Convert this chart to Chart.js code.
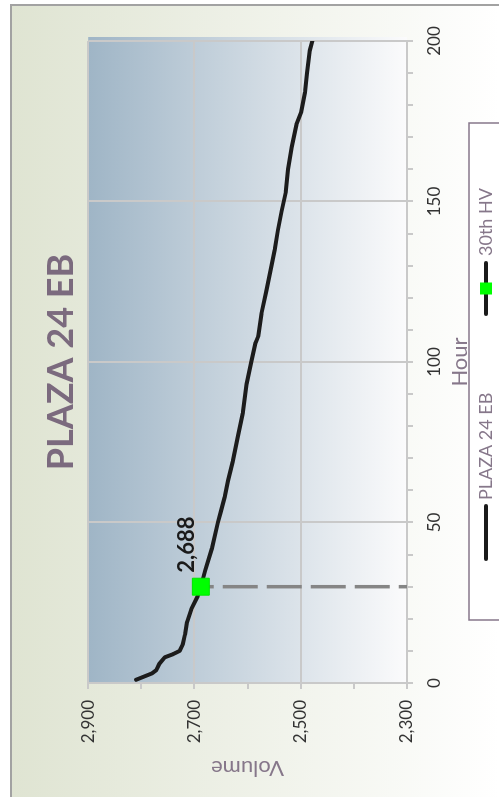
<!DOCTYPE html>
<html>
<head>
<meta charset="utf-8">
<title>PLAZA 24 EB</title>
<script src="https://cdn.jsdelivr.net/npm/chart.js@4.4.1/dist/chart.umd.min.js"></script>
<style>
html,body{margin:0;padding:0;background:#fff;overflow:hidden;width:499px;height:797px}
/* chart is laid out landscape, then turned a quarter to the left */
#wrap{position:absolute;left:0;top:797px;width:797px;height:520px;transform-origin:0 0;transform:rotate(-90deg)}
</style>
</head>
<body>
<div id="wrap"><canvas id="c" width="797" height="520"></canvas></div>
<script>
// ── data ────────────────────────────────────────────────────
const hours   = [1,3,4,6,8,9,10,12,15,19,23,27,30,35,42,50,53,58,63,69,77,84,93,100,106,108,115,122,130,135,141,147,153,160,167,174,178,184,190,197,200];
const volumes = [2810,2780,2772,2766,2756,2740,2728,2722,2718,2714,2706,2694,2688,2680,2667,2656,2651,2643,2637,2628,2618,2609,2602,2593,2585,2580,2574,2565,2555,2549,2543,2536,2528,2524,2517,2508,2499,2492,2488,2483,2478];
const hvHour = 30;
const hvVolume = 2688;
const hourTicks = [0,50,100,150,200];
const volumeTicks = [2300,2500,2700,2900];

const FONT = "Lato, 'DejaVu Sans', sans-serif";
const PURPLE = '#86778a';
const GRID = '#c9c9c9';

// ── plugins ─────────────────────────────────────────────────
const frameBg = {
  id: 'frameBg',
  beforeDraw(chart) {
    const { ctx, chartArea: a, width, height } = chart;
    ctx.save();
    ctx.fillStyle = '#fff';
    ctx.fillRect(0, 0, width, height);
    // outer frame runs off the left and bottom edges of the canvas
    const g = ctx.createLinearGradient(0, 11, 0, 499);
    g.addColorStop(0, '#dfe4d2');
    g.addColorStop(1, '#ffffff');
    ctx.fillStyle = g;
    ctx.fillRect(-10, 11, 802, height);
    ctx.strokeStyle = '#a2a2a2';
    ctx.lineWidth = 2;
    ctx.strokeRect(-10, 11, 802, height + 10);
    // plot area
    const pg = ctx.createLinearGradient(0, a.top, 0, a.bottom);
    pg.addColorStop(0, '#9fb5c6');
    pg.addColorStop(1, '#fbfbfc');
    ctx.fillStyle = pg;
    ctx.fillRect(a.left, a.top, a.right - a.left + 4, a.bottom - a.top);
    ctx.restore();
  }
};

const hvLabel = {
  id: 'hvLabel',
  afterDatasetsDraw(chart) {
    const el = chart.getDatasetMeta(0).data[0];
    if (!el) return;
    const { ctx } = chart;
    ctx.save();
    ctx.font = `bold 22px ${FONT}`;
    ctx.fillStyle = '#1a1a1a';
    ctx.textAlign = 'left';
    ctx.textBaseline = 'middle';
    ctx.fillText(hvVolume.toLocaleString('en-US'), el.x + 14, el.y - 14);
    ctx.restore();
  }
};

const boxLegend = {
  id: 'boxLegend',
  afterDraw(chart) {
    const { ctx, chartArea: a, height } = chart;
    const left = a.left + 63, top = a.bottom + 62, w = 497;
    const cy = top + 17;
    ctx.save();
    ctx.fillStyle = '#fff';
    ctx.fillRect(left, top, w, height);
    ctx.strokeStyle = PURPLE;
    ctx.lineWidth = 1.5;
    ctx.strokeRect(left, top, w, height + 10);

    ctx.font = `18px ${FONT}`;
    ctx.textBaseline = 'middle';
    ctx.lineCap = 'round';
    ctx.lineWidth = 4;
    ctx.strokeStyle = '#1a1a1a';
    // PLAZA 24 EB
    ctx.beginPath(); ctx.moveTo(left + 61, cy); ctx.lineTo(left + 114, cy); ctx.stroke();
    ctx.fillStyle = PURPLE;
    ctx.fillText('PLAZA 24 EB', left + 120, cy);
    // 30th HV
    ctx.beginPath(); ctx.moveTo(left + 306, cy); ctx.lineTo(left + 357, cy); ctx.stroke();
    ctx.fillStyle = '#00ff00';
    ctx.fillRect(left + 325.5, cy - 6, 12, 12);
    ctx.fillStyle = PURPLE;
    ctx.fillText('30th HV', left + 364, cy);
    ctx.restore();
  }
};

// ── chart ───────────────────────────────────────────────────
const plaza = hours.map((h, i) => ({ x: h, y: volumes[i] }));

new Chart(document.getElementById('c'), {
  type: 'line',
  data: {
    datasets: [
      {
        label: '30th HV',
        data: [{ x: hvHour, y: hvVolume }, { x: hvHour, y: volumeTicks[0] }],
        borderColor: '#858585',
        borderWidth: 3.5,
        borderDash: [35, 9],
        borderDashOffset: 22,
        pointStyle: 'rect',
        pointRadius: [12, 0],
        pointBackgroundColor: '#00ff00',
        pointBorderColor: '#00e600',
        pointBorderWidth: 1,
        order: 0
      },
      {
        label: 'PLAZA 24 EB',
        data: plaza,
        borderColor: '#1c1c1c',
        borderWidth: 4,
        borderJoinStyle: 'round',
        borderCapStyle: 'round',
        pointRadius: 0,
        tension: 0,
        order: 1
      }
    ]
  },
  options: {
    responsive: false,
    maintainAspectRatio: false,
    animation: false,
    devicePixelRatio: 1,
    layout: { padding: { left: 0, right: 41, top: 0, bottom: 47 } },
    plugins: {
      legend: { display: false },
      tooltip: { enabled: false },
      title: {
        display: true,
        text: 'PLAZA 24 EB',
        fullSize: false,
        color: '#7b6a7e',
        font: { family: FONT, size: 36, weight: 'bold' },
        padding: { top: 40, bottom: 5 }
      }
    },
    scales: {
      x: {
        type: 'linear',
        min: hourTicks[0],
        max: hourTicks[hourTicks.length - 1],
        ticks: {
          stepSize: 10,
          autoSkip: false,
          maxRotation: 0,
          padding: 11,
          color: '#333',
          font: { family: FONT, size: 17 },
          callback: v => hourTicks.includes(v) ? String(v) : ''
        },
        grid: {
          color: c => c.tick && hourTicks.includes(c.tick.value) ? GRID : 'rgba(0,0,0,0)',
          tickColor: GRID,
          lineWidth: 2,
          tickLength: 6
        },
        border: { color: GRID, width: 2 },
        title: {
          display: true,
          text: 'Hour',
          color: PURPLE,
          font: { family: FONT, size: 22 },
          padding: { top: 0, bottom: 0 }
        },
        afterFit(s) { s.height = 66; }
      },
      y: {
        min: volumeTicks[0],
        max: volumeTicks[volumeTicks.length - 1],
        ticks: {
          stepSize: 100,
          autoSkip: false,
          padding: 11,
          color: '#333',
          font: { family: FONT, size: 17 },
          callback: v => volumeTicks.includes(v) ? v.toLocaleString('en-US') : ''
        },
        grid: {
          color: c => c.tick && volumeTicks.includes(c.tick.value) ? GRID : 'rgba(0,0,0,0)',
          tickColor: GRID,
          lineWidth: 2,
          tickLength: 6
        },
        border: { color: GRID, width: 2 },
        title: {
          display: true,
          text: 'Volume',
          color: PURPLE,
          font: { family: FONT, size: 22 },
          padding: { top: 16, bottom: 0 }
        },
        afterFit(s) { s.width = 114; }
      }
    }
  },
  plugins: [frameBg, hvLabel, boxLegend]
});
</script>
</body>
</html>
